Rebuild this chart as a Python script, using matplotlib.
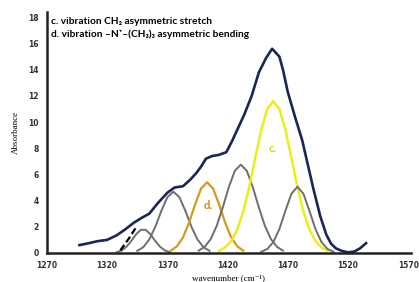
import matplotlib
matplotlib.use("Agg")
import matplotlib.pyplot as plt

# measured spectrum (envelope)
env_x = [1297, 1305, 1312, 1320, 1328, 1335, 1342, 1349, 1355, 1362, 1370, 1376,
         1383, 1389, 1394, 1398, 1402, 1407, 1413, 1419, 1424, 1429, 1434, 1440,
         1446, 1452, 1457, 1460, 1463, 1466, 1470, 1476, 1482, 1487, 1491, 1497,
         1502, 1506, 1510, 1515, 1520, 1525, 1530, 1535]
env_y = [0.6, 0.75, 0.9, 1.0, 1.35, 1.8, 2.3, 2.7, 3.0, 3.8, 4.6, 5.0,
         5.1, 5.6, 6.1, 6.6, 7.2, 7.4, 7.5, 7.7, 8.6, 9.6, 10.6, 12.0,
         13.8, 14.9, 15.6, 15.3, 15.0, 14.0, 12.3, 10.4, 8.6, 6.6, 5.0, 2.8,
         1.4, 0.7, 0.35, 0.15, 0.05, 0.1, 0.35, 0.75]

# fitted components
p1_x = [1328, 1332, 1336, 1340, 1344, 1348, 1352, 1356, 1360, 1364, 1368, 1372]
p1_y = [0.06, 0.19, 0.47, 0.91, 1.42, 1.77, 1.77, 1.42, 0.91, 0.47, 0.19, 0.06]

p2_x = [1345, 1350, 1355, 1360, 1365, 1370, 1375, 1380, 1385, 1390, 1395, 1400, 1405]
p2_y = [0.16, 0.44, 1.03, 2.0, 3.21, 4.26, 4.68, 4.26, 3.21, 2.0, 1.03, 0.44, 0.16]

d_x = [1373, 1378, 1383, 1388, 1393, 1398, 1403, 1408, 1413, 1418, 1423, 1428, 1433]
d_y = [0.18, 0.51, 1.19, 2.31, 3.70, 4.92, 5.4, 4.92, 3.70, 2.31, 1.19, 0.51, 0.18]

p4_x = [1396, 1401, 1406, 1411, 1416, 1421, 1426, 1431, 1436, 1441, 1446, 1451, 1456, 1461, 1466]
p4_y = [0.18, 0.47, 1.06, 2.07, 3.47, 5.02, 6.27, 6.75, 6.27, 5.02, 3.47, 2.07, 1.06, 0.47, 0.18]

c_x = [1413, 1418, 1423, 1428, 1433, 1438, 1443, 1448, 1453, 1458,
       1463, 1468, 1473, 1478, 1483, 1488, 1493, 1498, 1503]
c_y = [0.17, 0.42, 0.91, 1.78, 3.16, 5.05, 7.26, 9.42, 11.01, 11.6,
       11.01, 9.42, 7.26, 5.05, 3.16, 1.78, 0.91, 0.42, 0.17]

p6_x = [1448, 1453, 1458, 1463, 1468, 1473, 1478, 1483, 1488, 1493, 1498, 1503, 1508]
p6_y = [0.09, 0.30, 0.83, 1.82, 3.21, 4.52, 5.06, 4.52, 3.21, 1.82, 0.83, 0.30, 0.09]

dash_x = [1331, 1338, 1345]
dash_y = [0.2, 1.1, 2.1]

x_ticks = [1270, 1320, 1370, 1420, 1470, 1520, 1570]
y_ticks = [0, 2, 4, 6, 8, 10, 12, 14, 16, 18]

fig = plt.figure(figsize=(4.19, 2.82), dpi=100)
ax = fig.add_axes([0.112, 0.103, 0.868, 0.854])

gray = '#6e6e6e'
ax.plot(p1_x, p1_y, color=gray, lw=1.4)
ax.plot(p2_x, p2_y, color=gray, lw=1.4)
ax.plot(d_x, d_y, color='#d39b1c', lw=1.6)
ax.plot(p4_x, p4_y, color=gray, lw=1.4)
ax.plot(c_x, c_y, color='#eded1e', lw=1.8)
ax.plot(p6_x, p6_y, color=gray, lw=1.4)
ax.plot(dash_x, dash_y, color='black', lw=1.6, linestyle=(0, (3, 1.5)))
ax.plot(env_x, env_y, color='#1b2557', lw=1.9)

ax.text(1457, 8.0, 'c.', color='#d8d21a', fontsize=8, fontweight='bold',
        ha='center', va='center', family='Lato')
ax.text(1404, 3.6, 'd.', color='#d08a1a', fontsize=8, fontweight='bold',
        ha='center', va='center', family='Lato')

fam = ['Lato', 'DejaVu Sans']
ax.text(1273, 17.7, 'c. vibration CH\u2082 asymmetric stretch', fontsize=7.3,
        fontweight='bold', va='center', ha='left', family=fam)
ax.text(1273, 16.7, 'd. vibration \u2013N\u207a\u2013(CH\u2083)\u2083 asymmetric bending', fontsize=7.3,
        fontweight='bold', va='center', ha='left', family=fam)

ax.set_xlim(1270, 1572)
ax.set_ylim(0, 18.4)
ax.set_xticks(x_ticks)
ax.set_yticks(y_ticks)
ax.tick_params(length=0, labelsize=5.5, labelcolor='#333333', pad=6)
for lab in ax.get_xticklabels() + ax.get_yticklabels():
    lab.set_fontweight('bold')

ax.spines['top'].set_visible(False)
ax.spines['right'].set_visible(False)
ax.spines['left'].set_linewidth(1.8)
ax.spines['bottom'].set_linewidth(1.8)
ax.spines['left'].set_color('#222222')
ax.spines['bottom'].set_color('#222222')

serif = ['Liberation Serif', 'DejaVu Serif']
ax.set_xlabel('wavenumber (cm\u207b\u00b9)', fontsize=6.5, family=serif, labelpad=3)
ax.set_ylabel('Absorbance', fontsize=6.5, family=serif, labelpad=6)

fig.savefig('out.png', dpi=100)
